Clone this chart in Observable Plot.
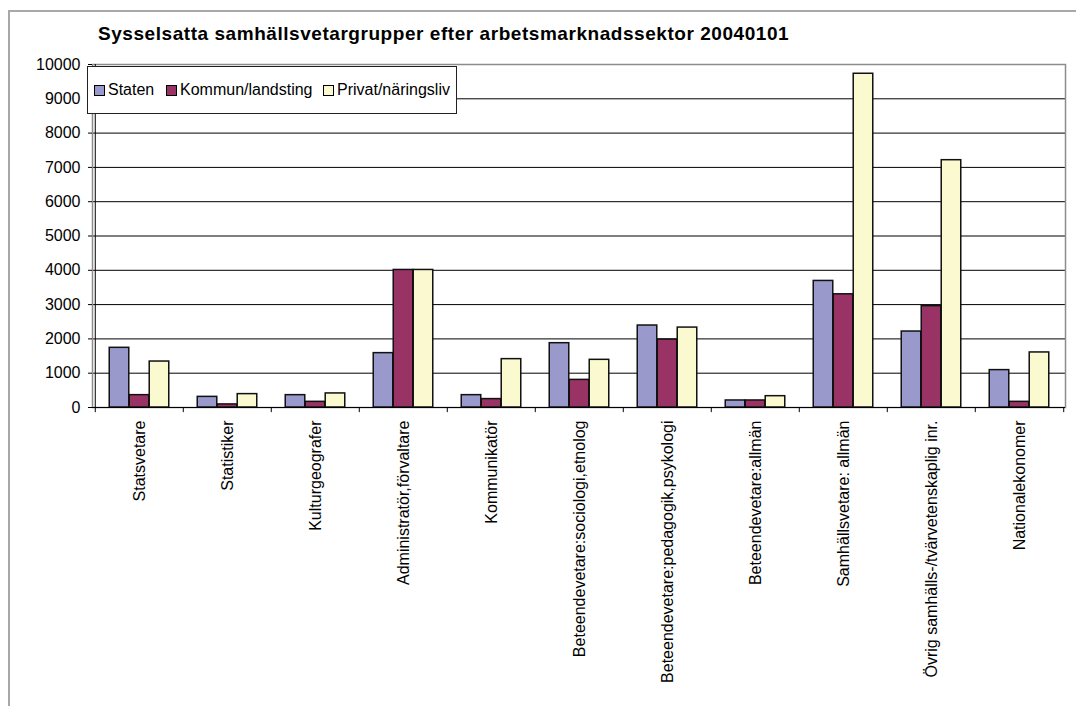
<!DOCTYPE html>
<html>
<head>
<meta charset="utf-8">
<script src="https://cdn.jsdelivr.net/npm/d3@7"></script>
<script src="https://cdn.jsdelivr.net/npm/@observablehq/plot@0.6"></script>
<style>
  html, body { margin: 0; padding: 0; background: #fff; overflow: hidden; }
  #chart { position: relative; width: 1076px; height: 706px; font-family: "Liberation Sans", Arial, sans-serif; }
  #frame { position: absolute; left: 8px; top: 10px; width: 1100px; height: 720px; border-left: 2px solid #a8a8a8; border-top: 2px solid #a8a8a8; box-sizing: border-box; }
  #title { position: absolute; left: 98px; top: 23px; font-size: 19px; letter-spacing: 0.55px; font-weight: bold; color: #000; white-space: nowrap; }
  #plotwrap { position: absolute; left: 0; top: 50px; }
  #legend { position: absolute; left: 87px; top: 66px; width: 370px; height: 48px; border: 1px solid #222; background: #fff; box-sizing: border-box; }
  .item { position: absolute; top: 0; height: 46px; display: flex; align-items: center; font-size: 16px; white-space: nowrap; }
  .sw { width: 9px; height: 9px; border: 1px solid #000; margin-right: 3px; }
</style>
</head>
<body>
<div id="chart">
  <div id="frame"></div>
  <div id="title">Sysselsatta samhällsvetargrupper efter arbetsmarknadssektor 20040101</div>
  <div id="plotwrap"></div>
  <div id="legend"></div>
</div>
<script>
const categories = [
  "Statsvetare",
  "Statistiker",
  "Kulturgeografer",
  "Administratör,förvaltare",
  "Kommunikatör",
  "Beteendevetare:sociologi,etnolog",
  "Beteendevetare:pedagogik,psykologi",
  "Beteendevetare:allmän",
  "Samhällsvetare: allmän",
  "Övrig samhälls-/tvärvetenskaplig inr.",
  "Nationalekonomer"
];
const seriesNames = ["Staten", "Kommun/landsting", "Privat/näringsliv"];
const staten = [1740, 310, 360, 1585, 360, 1875, 2390, 205, 3690, 2215, 1090];
const kommun = [360, 90, 165, 4010, 245, 805, 1980, 205, 3300, 2955, 165];
const privat = [1340, 390, 410, 4010, 1410, 1390, 2330, 330, 9730, 7210, 1605];
const yTicks = [0, 1000, 2000, 3000, 4000, 5000, 6000, 7000, 8000, 9000, 10000];
const colors = ["#9999cc", "#993366", "#fbf9cf"];

const seriesValues = [staten, kommun, privat];

const W = 1076, H = 656;
const mL = 92, mR = 11, mT = 14, mB = 299;
const step = (W - mL - mR) / categories.length;
const barW = step * 0.226;
const outer = (step - 3 * barW) / 2;

const barMarks = seriesValues.map((vals, i) =>
  Plot.barY(categories.map((c, j) => ({cat: c, value: vals[j], series: seriesNames[i]})), {
    x: "cat",
    y: "value",
    fill: colors[i],
    stroke: "#111",
    strokeWidth: 1.5,
    insetLeft: outer + barW * i,
    insetRight: step - outer - barW * (i + 1)
  })
);

const plot = Plot.plot({
  width: W,
  height: H,
  marginLeft: mL,
  marginRight: mR,
  marginTop: mT,
  marginBottom: mB,
  style: {fontFamily: "'Liberation Sans', Arial, sans-serif", fontSize: "16px", color: "#000", background: "transparent"},
  x: {domain: categories, padding: 0, axis: null},
  y: {domain: [0, 10000], axis: null},
  marks: [
    Plot.ruleY(yTicks.slice(1, -1), {stroke: "#000", strokeWidth: 1}),
    Plot.frame({stroke: "#8c8c8c", strokeWidth: 1.5}),
    ...barMarks,
    Plot.ruleY([0], {stroke: "#000", strokeWidth: 1}),
    Plot.ruleX([categories[0]], {dx: -step / 2, stroke: "#000", strokeWidth: 1}),
    Plot.ruleX(categories, {x: d => d, dx: -step / 2, y1: 0, y2: -150, stroke: "#000"}),
    Plot.ruleX([categories[categories.length - 1]], {dx: step / 2, y1: 0, y2: -150, stroke: "#000"}),
    Plot.axisY({ticks: yTicks, tickSize: 4, tickPadding: 8, tickFormat: d => String(d), label: null, fontSize: 16}),
    Plot.axisX({tickSize: 0, tickPadding: 13, tickRotate: -90, label: null, fontSize: 16})
  ]
});
document.getElementById("plotwrap").appendChild(plot);

const legend = document.getElementById("legend");
const itemX = [6, 78, 235];
seriesNames.forEach((name, i) => {
  const it = document.createElement("div");
  it.className = "item";
  it.style.left = itemX[i] + "px";
  const sw = document.createElement("span");
  sw.className = "sw";
  sw.style.background = colors[i];
  const tx = document.createElement("span");
  tx.textContent = name;
  it.appendChild(sw);
  it.appendChild(tx);
  legend.appendChild(it);
});
</script>
</body>
</html>
